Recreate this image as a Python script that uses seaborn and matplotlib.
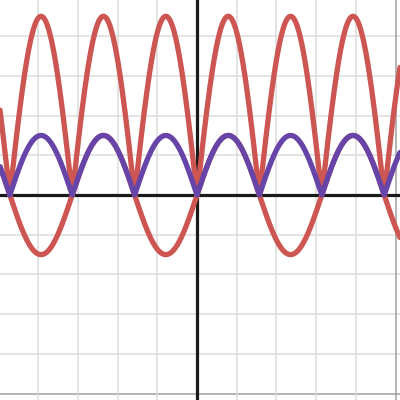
import numpy as np
import pandas as pd
import matplotlib
matplotlib.use("Agg")
import matplotlib.pyplot as plt
import seaborn as sns

# visible window (graph units)
x_range = [-4.96, 5.11]
y_range = [-5.16, 4.91]

# curve parameters: y = amp * sin(freq * x)
red_upper_amp = 4.5   # drawn as |sin|, every arch peaks at 4.5
red_lower_amp = 1.5   # plain sin, troughs at -1.5
purple_amp = 1.5      # drawn as |sin|
freq = 2.0

minor_ticks = list(range(-5, 6))
major_ticks = [-5, 5]

x = np.linspace(x_range[0], x_range[1], 3000)
df = pd.DataFrame({
    'x': x,
    'red_upper': red_upper_amp * np.abs(np.sin(freq * x)),
    'red_lower': red_lower_amp * np.sin(freq * x),
    'purple': purple_amp * np.abs(np.sin(freq * x)),
})

sns.set_style("white")
fig = plt.figure(figsize=(4, 4), dpi=100)
ax = fig.add_axes([0, 0, 1, 1])

# grid
for t in minor_ticks:
    c = '#a0a0a0' if t in major_ticks else '#dcdcdc'
    ax.axvline(t, color=c, lw=1.1, zorder=0)
    ax.axhline(t, color=c, lw=1.1, zorder=0)
ax.axvline(0, color='#1a1a1a', lw=2.3, zorder=1)
ax.axhline(0, color='#1a1a1a', lw=2.3, zorder=1)

sns.lineplot(data=df, x='x', y='red_upper', color='#cd5652', lw=3.8, ax=ax, zorder=2)
sns.lineplot(data=df, x='x', y='red_lower', color='#cd5652', lw=3.8, ax=ax, zorder=2)
sns.lineplot(data=df, x='x', y='purple', color='#6744a8', lw=3.8, ax=ax, zorder=3)

ax.set_xlim(*x_range)
ax.set_ylim(*y_range)
ax.set_axis_off()

fig.savefig('out.png', dpi=100)
